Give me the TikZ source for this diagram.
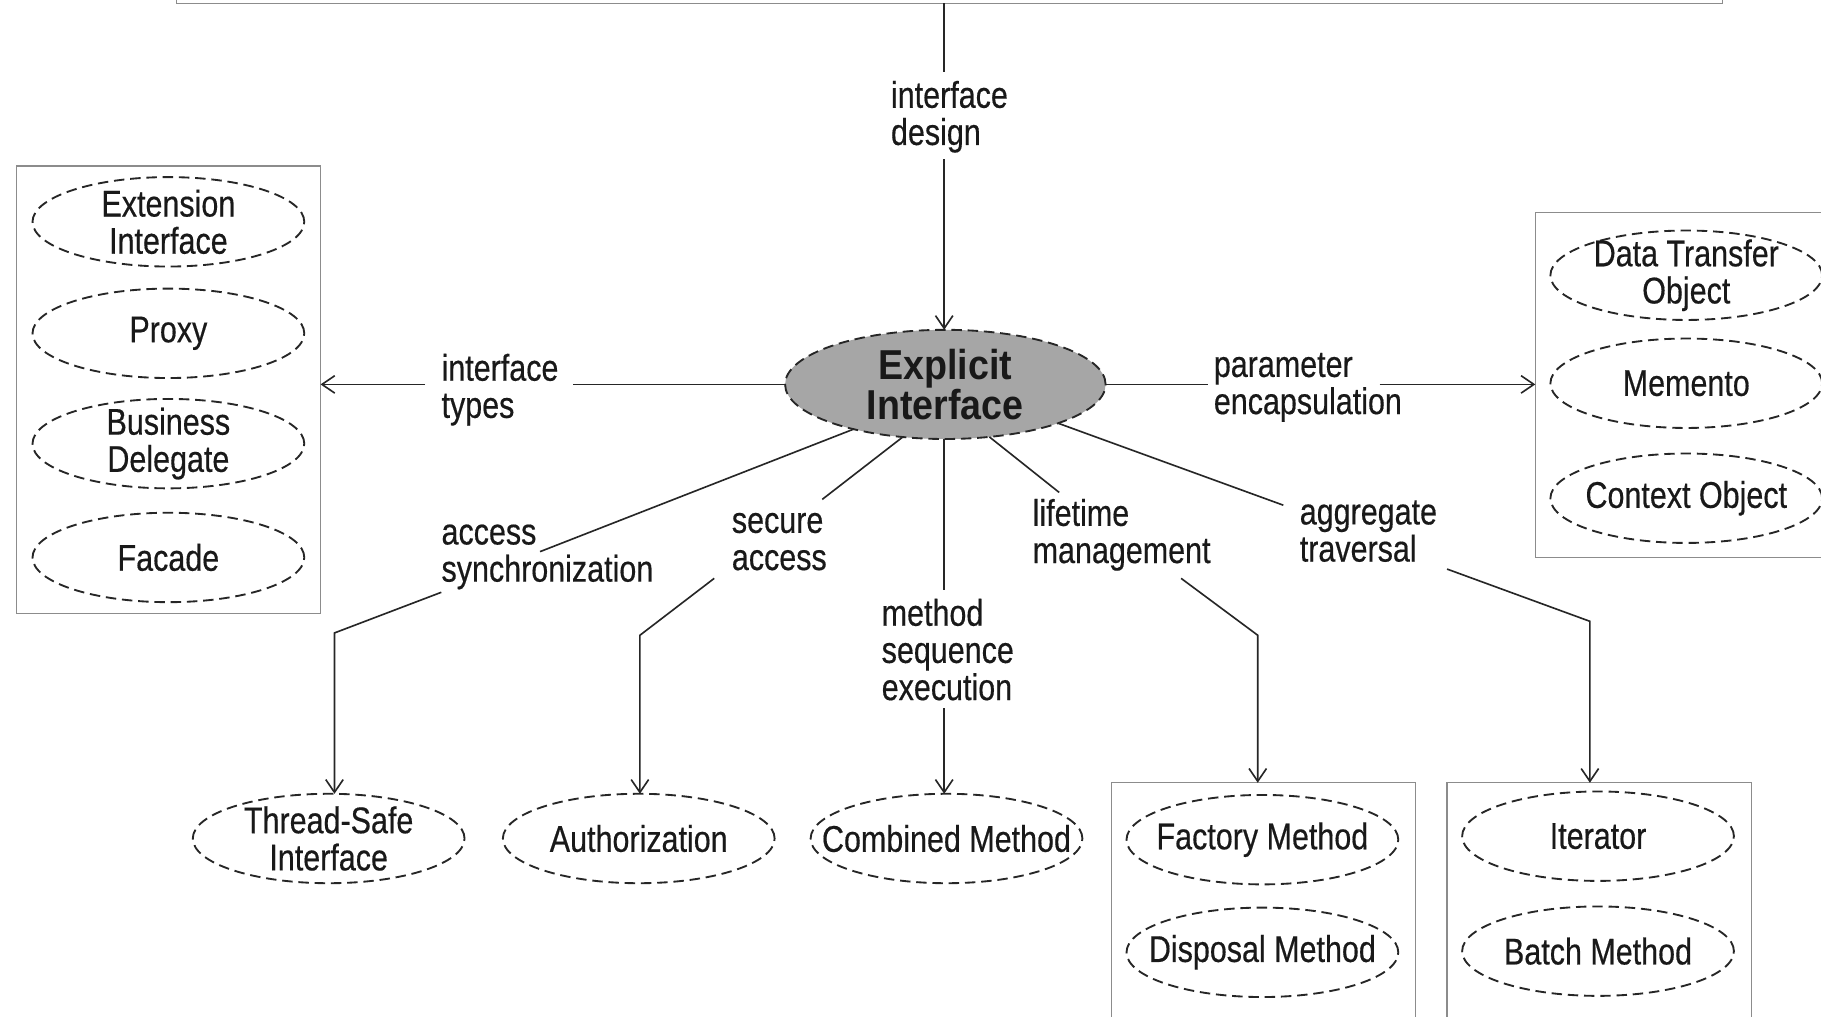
\documentclass[tikz,border=0pt]{standalone}
\usepackage{fontspec}
\setmainfont[FakeStretch=0.82,FakeBold=0.4]{Liberation Sans}
\newfontfamily\headfont[FakeStretch=0.9]{Liberation Sans}
\usetikzlibrary{arrows.meta,shapes.geometric}

\tikzset{
  every node/.style={font=\fontsize{32}{32}\selectfont, text=black!90},
  patlabel/.style={align=center, inner sep=0pt},
  patnode/.style={ellipse, draw=black!85, line width=1.6pt, dash pattern=on 9pt off 5pt,
    minimum width=234pt, minimum height=77pt, inner sep=0pt, outer sep=0pt,
    label={[patlabel]center:#1}},
  core/.style={ellipse, draw=black!85, line width=1.6pt, dash pattern=on 9pt off 5pt,
    fill=black!35, minimum width=276pt, minimum height=94pt, inner sep=0pt, outer sep=0pt,
    label={[patlabel, font={\headfont\bfseries\fontsize{36}{34}\selectfont}]center:#1}},
  groupbox/.style={rectangle, draw=black!45, line width=1pt, inner sep=0pt, outer sep=0pt},
  connector/.style={draw=black!85, line width=1.4pt},
  arrowed/.style={connector, -{Straight Barb[length=11pt,width=15pt]}},
  edgelabel/.style={anchor=west, align=left, inner sep=0pt,
    execute at begin node=\strut, execute at end node=\strut},
}

\begin{document}
\begin{tikzpicture}[x=1pt,y=-1pt]
\useasboundingbox (0,0) rectangle (1568,875);
\fill[white] (0,0) rectangle (1568,875);
\clip (0,0) rectangle (1568,875);

% frame above the central pattern
\node[groupbox, minimum width=1331pt, minimum height=40pt] (topbox) at (817.5,-17) {};

% central pattern
\node[core={Explicit\\Interface}] (ex) at (814,331) {};

% interface types group
\node[groupbox, minimum width=262pt, minimum height=385pt] (leftbox) at (145,335.5) {};
\node[patnode={Extension\\Interface}] (ext) at (145,191) {};
\node[patnode={Proxy}] (proxy) at (145,287) {};
\node[patnode={Business\\Delegate}] (busdel) at (145,382) {};
\node[patnode={Facade}] (facade) at (145,480) {};

% parameter encapsulation group
\node[groupbox, minimum width=298pt, minimum height=297pt] (rightbox) at (1471,331.5) {};
\node[patnode={Data Transfer\\Object}] (dto) at (1452,237) {};
\node[patnode={Memento}] (memento) at (1452,330) {};
\node[patnode={Context Object}] (ctx) at (1452,429) {};

% single patterns below
\node[patnode={Thread-Safe\\Interface}] (thread) at (283,722) {};
\node[patnode={Authorization}] (auth) at (550,722) {};
\node[patnode={Combined Method}] (comb) at (815,722) {};

% lifetime management group
\node[groupbox, minimum width=262pt, minimum height=246pt] (factbox) at (1088,797) {};
\node[patnode={Factory Method}] (fact) at (1087,723) {};
\node[patnode={Disposal Method}] (disp) at (1087,820) {};

% aggregate traversal group
\node[groupbox, minimum width=262pt, minimum height=246pt] (iterbox) at (1377,797) {};
\node[patnode={Iterator}] (iter) at (1376,720) {};
\node[patnode={Batch Method}] (batch) at (1376,819) {};

% connector labels
\node[edgelabel] (lDesign) at (767,102) {interface\\design};
\node[edgelabel] (lTypes) at (380,337) {interface\\types};
\node[edgelabel] (lParam) at (1045,335) {parameter\\encapsulation};
\node[edgelabel] (lSync) at (380,481) {access\\synchronization};
\node[edgelabel] (lSecure) at (630,471) {secure\\access};
\node[edgelabel] (lMethod) at (759,564) {method\\sequence\\execution};
\node[edgelabel] (lLife) at (889,462) {lifetime\\management};
\node[edgelabel] (lAgg) at (1119,462) {aggregate\\traversal};

% break points around the labels and bends
\coordinate (d1) at (813,62);   \coordinate (d2) at (813,137);
\coordinate (t1) at (493,331);  \coordinate (t2) at (366,331);
\coordinate (p1) at (1040,331); \coordinate (p2) at (1188,331);
\coordinate (s1) at (465,475);  \coordinate (s2) at (380,510);  \coordinate (s3) at (288,545);
\coordinate (a1) at (708,430);  \coordinate (a2) at (615,498);  \coordinate (a3) at (551,547);
\coordinate (m1) at (813,508);  \coordinate (m2) at (813,610);
\coordinate (l1) at (912,424);  \coordinate (l2) at (1017,498); \coordinate (l3) at (1083,547);
\coordinate (g1) at (1105,435); \coordinate (g2) at (1246,490); \coordinate (g3) at (1369,535);

% interface design
\draw[connector] (topbox.south -| d1) -- (d1);
\draw[arrowed] (d2) -- (d2 |- ex.north);

% interface types
\draw[connector] (ex.west) -- (t1);
\draw[arrowed] (t2) -- (t2 -| leftbox.east);

% parameter encapsulation
\draw[connector] (ex.east) -- (p1);
\draw[arrowed] (p2) -- (p2 -| rightbox.west);

% access synchronization
\draw[connector] (ex.206.6) -- (s1);
\draw[arrowed] (s2) -- (s3) -- (s3 |- thread.north);

% secure access
\draw[connector] (ex.231.3) -- (a1);
\draw[arrowed] (a2) -- (a3) -- (a3 |- auth.north);

% method sequence execution
\draw[connector] (m1 |- ex.south) -- (m1);
\draw[arrowed] (m2) -- (m2 |- comb.north);

% lifetime management
\draw[connector] (ex.310.2) -- (l1);
\draw[arrowed] (l2) -- (l3) -- (l3 |- factbox.north);

% aggregate traversal
\draw[connector] (ex.341.6) -- (g1);
\draw[arrowed] (g2) -- (g3) -- (g3 |- iterbox.north);
\end{tikzpicture}
\end{document}
